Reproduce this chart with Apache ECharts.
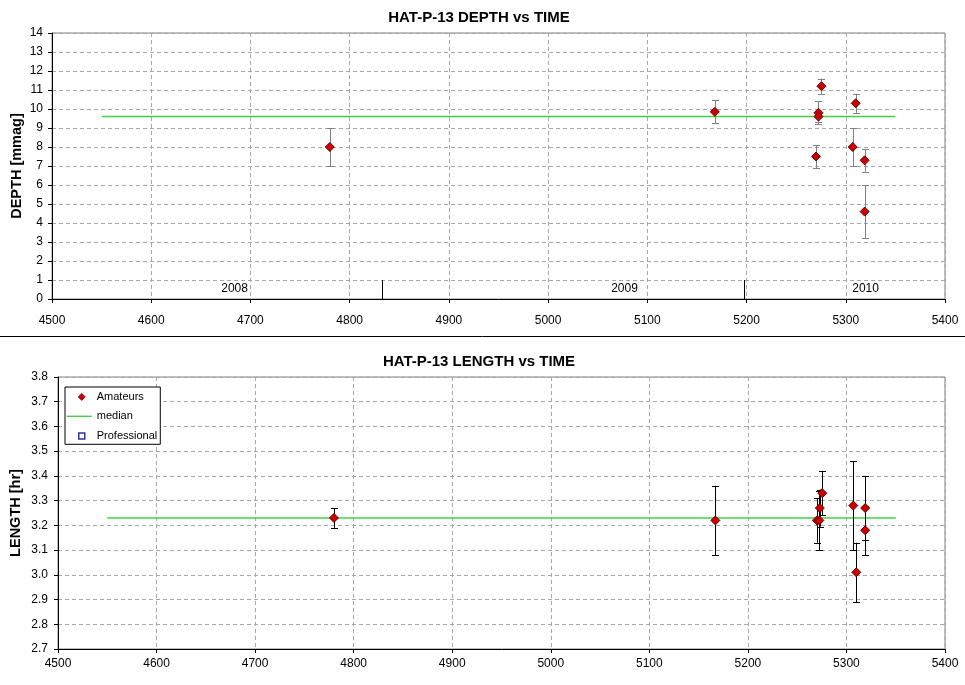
<!DOCTYPE html>
<html>
<head>
<meta charset="utf-8">
<script src="https://cdn.jsdelivr.net/npm/echarts@6/dist/echarts.min.js"></script>
<style>
html,body{margin:0;padding:0;background:#fff;}
#c{width:965px;height:685px;}
</style>
</head>
<body>
<div id="c"></div>
<script>
// ---- data ----
var depthX   = [4780, 5168, 5270, 5272.5, 5272.5, 5275.5, 5307, 5310, 5319, 5319];
var depthY   = [8.0, 9.85, 7.5, 9.8, 9.6, 11.2, 8.0, 10.3, 7.3, 4.6];
var depthErr = [1.0, 0.6, 0.6, 0.6, 0.3, 0.4, 1.0, 0.5, 0.6, 1.4];
var depthMedian = 9.6;

var lengthX   = [4780, 5167, 5270, 5272.5, 5273, 5275.5, 5307, 5310, 5319, 5319];
var lengthY   = [3.23, 3.22, 3.22, 3.22, 3.27, 3.33, 3.28, 3.01, 3.27, 3.18];
var lengthErr = [0.04, 0.14, 0.09, 0.12, 0.075, 0.09, 0.18, 0.12, 0.13, 0.10];
var lengthMedian = 3.23;

var medianRange = [4550, 5350];
var yearBoundaries = [4832.5, 5197.5];
var yearNames = ['2008', '2009', '2010'];
var yearLabelX = [4684, 5077, 5320];
var yearLabelY = 0.55;

var xTicks = {min: 4500, max: 5400, interval: 100};
var depthTicks = {min: 0, max: 14, interval: 1};
var lengthTicks = {min: 2.7, max: 3.8, interval: 0.1};

// ---- helpers ----
function zip3(a, b, c) { return a.map(function (v, i) { return [v, b[i], c[i]]; }); }
function zip2(a, b) { return a.map(function (v, i) { return [v, b[i]]; }); }

function errRender(color) {
  return function (params, api) {
    var x = api.value(0), y = api.value(1), e = api.value(2);
    var t = api.coord([x, y + e]);
    var b = api.coord([x, y - e]);
    var px = Math.round(t[0]) + 0.5;
    var w = 3.5;
    var st = {stroke: color, lineWidth: 1};
    return {type: 'group', children: [
      {type: 'line', shape: {x1: px, y1: t[1], x2: px, y2: b[1]}, style: st},
      {type: 'line', shape: {x1: px - w, y1: Math.round(t[1]) + 0.5, x2: px + w, y2: Math.round(t[1]) + 0.5}, style: st},
      {type: 'line', shape: {x1: px - w, y1: Math.round(b[1]) + 0.5, x2: px + w, y2: Math.round(b[1]) + 0.5}, style: st}
    ]};
  };
}

function boundaryRender(params, api) {
  var x = api.value(0);
  var p0 = api.coord([x, 0]);
  var p1 = api.coord([x, 1]);
  var px = Math.round(p0[0]) + 0.5;
  return {type: 'line', shape: {x1: px, y1: p0[1], x2: px, y2: p1[1]}, style: {stroke: '#000', lineWidth: 1}};
}

var FONT = 'Liberation Sans, Arial, sans-serif';
var pointStyle = {color: '#CC0000', borderColor: '#660000', borderWidth: 1, opacity: 1};
var green = '#44D044';

function xAxis(gi, margin) {
  return {
    type: 'value', gridIndex: gi, min: xTicks.min, max: xTicks.max, interval: xTicks.interval,
    axisLine: {show: true, onZero: false, lineStyle: {color: '#000', width: 1}},
    axisTick: {show: true, length: 4, lineStyle: {color: '#000'}},
    axisLabel: {color: '#000', fontFamily: FONT, fontSize: 12, margin: margin,
      formatter: function (v) { return String(Math.round(v)); }},
    splitLine: {show: true, lineStyle: {color: '#a8a8a8', type: [4, 3], width: 1}}
  };
}
function yAxis(gi, ticks, name, gap, dec, margin) {
  return {
    type: 'value', gridIndex: gi, min: ticks.min, max: ticks.max, interval: ticks.interval,
    name: name, nameLocation: 'middle', nameGap: gap, nameRotate: 90, nameMoveOverlap: false,
    nameTextStyle: {color: '#000', fontFamily: FONT, fontSize: 14.5, fontWeight: 'bold'},
    axisLine: {show: true, onZero: false, lineStyle: {color: '#000', width: 1}},
    axisTick: {show: true, length: 4, lineStyle: {color: '#000'}},
    axisLabel: {color: '#000', fontFamily: FONT, fontSize: 12, margin: margin,
      formatter: function (v) { return dec ? v.toFixed(dec) : String(Math.round(v)); }},
    splitLine: {show: true, lineStyle: {color: '#a8a8a8', type: [4, 3], width: 1}}
  };
}

// legend icons (bounding moves keep the mark small inside the 25x11 icon box)
var ICON_BOX = 'M0,0 M25,11 ';
var iconDiamond = 'path://' + ICON_BOX + 'M15,2 L18.5,5.5 L15,9 L11.5,5.5 Z';
var iconLine = 'path://' + ICON_BOX + 'M0,4.8 L25,4.8 L25,6.2 L0,6.2 Z';
var iconSquare = 'path://' + ICON_BOX + 'M12,2.5 L18,2.5 L18,8.5 L12,8.5 Z';

var chart = echarts.init(document.getElementById('c'), null, {renderer: 'canvas'});
chart.setOption({
  animation: false,
  backgroundColor: '#fff',
  title: [
    {text: 'HAT-P-13 DEPTH vs TIME', left: 474, top: 5, textAlign: 'center',
     textStyle: {fontFamily: FONT, fontSize: 15, fontWeight: 'bold', color: '#000'}},
    {text: 'HAT-P-13 LENGTH vs TIME', left: 474, top: 349, textAlign: 'center',
     textStyle: {fontFamily: FONT, fontSize: 15, fontWeight: 'bold', color: '#000'}}
  ],
  graphic: [
    {type: 'line', shape: {x1: 0, y1: 336.5, x2: 965, y2: 336.5}, style: {stroke: '#000', lineWidth: 1}, z: 10}
  ],
  legend: {
    orient: 'vertical', left: 65, top: 387,
    backgroundColor: '#fff', borderColor: '#000', borderWidth: 1,
    padding: [4, 3, 2, 1], itemGap: 8, itemWidth: 25, itemHeight: 11,
    textStyle: {fontFamily: FONT, fontSize: 11, color: '#000'},
    data: [
      {name: 'Amateurs', icon: iconDiamond, itemStyle: {color: '#CC0000', borderColor: '#660000', borderWidth: 0.8}},
      {name: 'median', icon: iconLine, itemStyle: {color: green, borderWidth: 0}},
      {name: 'Professional', icon: iconSquare, itemStyle: {color: '#ffffff', borderColor: '#000080', borderWidth: 1.5}}
    ]
  },
  grid: [
    {left: 52, right: 20, top: 33, height: 266, show: true, borderColor: '#808080', borderWidth: 1,
     backgroundColor: '#fff', containLabel: false, outerBoundsMode: 'none'},
    {left: 58, right: 20, top: 377, height: 272, show: true, borderColor: '#808080', borderWidth: 1,
     backgroundColor: '#fff', containLabel: false, outerBoundsMode: 'none'}
  ],
  xAxis: [xAxis(0, 16), xAxis(1, 9)],
  yAxis: [yAxis(0, depthTicks, 'DEPTH [mmag]', 28, 0, 9), yAxis(1, lengthTicks, 'LENGTH [hr]', 35, 1, 10)],
  series: [
    // top chart
    {type: 'line', name: 'depthMedian', xAxisIndex: 0, yAxisIndex: 0, symbol: 'none',
     lineStyle: {color: green, width: 1.5}, data: medianRange.map(function (x) { return [x, depthMedian]; }), z: 2},
    {type: 'custom', name: 'depthErr', xAxisIndex: 0, yAxisIndex: 0, renderItem: errRender('#808080'),
     encode: {x: 0, y: 1}, data: zip3(depthX, depthY, depthErr), z: 3},
    {type: 'scatter', name: 'depthPts', xAxisIndex: 0, yAxisIndex: 0, symbol: 'diamond', symbolSize: 9,
     itemStyle: pointStyle, data: zip2(depthX, depthY), z: 5},
    {type: 'custom', name: 'yearBoundary', xAxisIndex: 0, yAxisIndex: 0, renderItem: boundaryRender,
     encode: {x: 0, y: 1}, data: yearBoundaries.map(function (x) { return [x, 0]; }), z: 4},
    {type: 'scatter', name: 'yearLabels', xAxisIndex: 0, yAxisIndex: 0, symbolSize: 0, silent: true,
     itemStyle: {opacity: 1},
     label: {show: true, position: 'inside', formatter: function (p) { return p.name; },
             fontFamily: FONT, fontSize: 12, color: '#000', opacity: 1, textBorderWidth: 0},
     data: yearNames.map(function (n, i) { return {name: n, value: [yearLabelX[i], yearLabelY]}; }), z: 4},
    // bottom chart
    {type: 'line', name: 'median', xAxisIndex: 1, yAxisIndex: 1, symbol: 'none',
     lineStyle: {color: green, width: 1.5}, itemStyle: {color: green},
     data: medianRange.map(function (x) { return [x, lengthMedian]; }), z: 2},
    {type: 'custom', name: 'lengthErr', xAxisIndex: 1, yAxisIndex: 1, renderItem: errRender('#000000'),
     encode: {x: 0, y: 1}, data: zip3(lengthX, lengthY, lengthErr), z: 3},
    {type: 'scatter', name: 'Amateurs', xAxisIndex: 1, yAxisIndex: 1, symbol: 'diamond', symbolSize: 9,
     itemStyle: pointStyle, data: zip2(lengthX, lengthY), z: 5},
    {type: 'scatter', name: 'Professional', xAxisIndex: 1, yAxisIndex: 1, symbol: 'rect', symbolSize: 7,
     itemStyle: {color: '#fff', borderColor: '#000080', borderWidth: 1.5}, data: [], z: 5}
  ]
});
</script>
</body>
</html>
